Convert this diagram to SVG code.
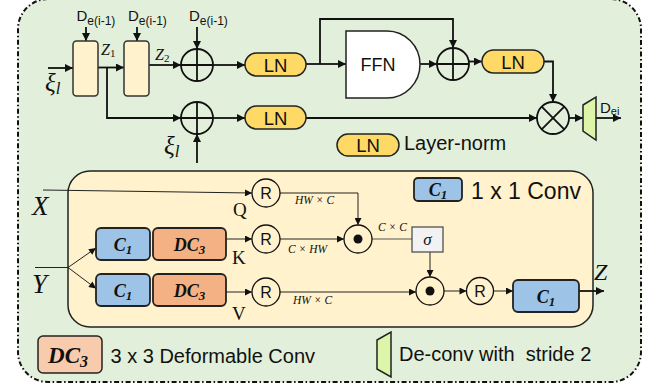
<svg xmlns="http://www.w3.org/2000/svg" width="647" height="389" viewBox="0 0 647 389">
<defs>
<style>
.sans{font-family:"Liberation Sans",Arial,sans-serif;fill:#111}
.mi{font-family:"Liberation Serif","DejaVu Serif",serif;font-style:italic;fill:#111}
.rm{font-family:"Liberation Serif","DejaVu Serif",serif;fill:#111}
.bm{font-family:"Liberation Serif","DejaVu Serif",serif;font-style:italic;font-weight:bold;fill:#111}
.thick{stroke:#111;stroke-width:1.8;fill:none}
.thin{stroke:#222;stroke-width:1;fill:none}
.gray{stroke:#555;stroke-width:1;fill:none}
.circ{stroke:#111;stroke-width:1.8;fill:none}
.circt{stroke:#111;stroke-width:1.3;fill:none}
.ln{fill:#ffd966;stroke:#222;stroke-width:1.5}
.c1{fill:#9dc3e6;stroke:#222;stroke-width:1.8}
.dc{fill:#f4b183;stroke:#222;stroke-width:1.8}
.cream{fill:#fff2cc;stroke:#333;stroke-width:1.5}
.trap{fill:#dcf5a8;stroke:#222;stroke-width:1.5}
</style>
<marker id="ah" viewBox="0 0 10 10" refX="10" refY="5" markerWidth="9" markerHeight="8" markerUnits="userSpaceOnUse" orient="auto"><path d="M0,0 L10,5 L0,10 Z" fill="#111"/></marker>
<marker id="as" viewBox="0 0 10 10" refX="10" refY="5" markerWidth="8" markerHeight="7" markerUnits="userSpaceOnUse" orient="auto"><path d="M0,0 L10,5 L0,10 Z" fill="#111"/></marker>
</defs>

<!-- outer frame -->
<rect x="18" y="-1" width="623" height="383" rx="30" fill="#e2efda" stroke="#111" stroke-width="2" stroke-dasharray="5 2.5 1.5 2.5"/>

<!-- inner attention panel -->
<g id="attention-panel">
<rect x="68" y="171" width="525" height="156" rx="22" fill="#fff2cc" stroke="#222" stroke-width="1.5"/>
</g>

<!-- connectors -->
<g id="connectors">
<line class="thick" x1="48" y1="68" x2="73" y2="68" marker-end="url(#ah)"/>
<line class="thick" x1="86" y1="27" x2="86" y2="41" marker-end="url(#ah)"/>
<line class="thick" x1="98" y1="67.5" x2="124" y2="67.5" marker-end="url(#ah)"/>
<polyline class="thick" points="107,67.5 107,118 181,118" marker-end="url(#ah)"/>
<line class="thick" x1="137" y1="27" x2="137" y2="41" marker-end="url(#ah)"/>
<line class="thick" x1="149" y1="65" x2="181" y2="65" marker-end="url(#ah)"/>
<line class="thick" x1="197" y1="27" x2="197" y2="49" marker-end="url(#ah)"/>
<line class="thick" x1="213" y1="65" x2="245" y2="65" marker-end="url(#ah)"/>
<line class="thick" x1="306" y1="64" x2="320" y2="64"/>
<polyline class="thick" points="320,64 320,19 453,19 453,48" marker-end="url(#ah)"/>
<line class="thick" x1="320" y1="64" x2="346" y2="64" marker-end="url(#ah)"/>
<line class="thick" x1="420" y1="64" x2="437" y2="64" marker-end="url(#ah)"/>
<line class="thick" x1="469" y1="61.5" x2="482" y2="61.5" marker-end="url(#ah)"/>
<polyline class="thick" points="544,61.5 553,61.5 553,102" marker-end="url(#ah)"/>
<line class="thick" x1="213" y1="118" x2="245" y2="118" marker-end="url(#ah)"/>
<line class="thick" x1="306" y1="118" x2="537" y2="118" marker-end="url(#ah)"/>
<line class="thick" x1="197" y1="163" x2="197" y2="134" marker-end="url(#ah)"/>
<line class="thick" x1="569" y1="118" x2="583" y2="118" marker-end="url(#ah)"/>
<line class="thick" x1="596" y1="118" x2="621" y2="118" marker-end="url(#ah)"/>

<line class="thin" x1="43" y1="190" x2="252" y2="193" marker-end="url(#as)"/>
<line class="thin" x1="35" y1="267.5" x2="68" y2="267.5"/>
<line class="thin" x1="68" y1="267.5" x2="96" y2="248" marker-end="url(#as)"/>
<line class="thin" x1="68" y1="267.5" x2="96" y2="288.5" marker-end="url(#as)"/>
<line class="thin" x1="226" y1="239" x2="252" y2="239" marker-end="url(#as)"/>
<line class="thin" x1="226" y1="292" x2="252" y2="292" marker-end="url(#as)"/>
<polyline class="thin" points="280,193 358,193 358,225" marker-end="url(#as)"/>
<line class="thin" x1="280" y1="239" x2="344" y2="239" marker-end="url(#as)"/>
<line class="gray" x1="372" y1="239" x2="412" y2="239"/>
<line class="thin" x1="430" y1="252" x2="430" y2="277" marker-end="url(#as)"/>
<line class="thin" x1="280" y1="292" x2="416" y2="292" marker-end="url(#as)"/>
<line class="thin" x1="444" y1="291" x2="466.5" y2="291" marker-end="url(#as)"/>
<line class="thin" x1="493.5" y1="291" x2="513" y2="291" marker-end="url(#as)"/>
<line class="thick" x1="579" y1="291" x2="604" y2="291" marker-end="url(#ah)"/>
</g>

<!-- top branch nodes -->
<g id="block1"><rect x="73" y="41" width="25" height="55" rx="3.5" class="cream"/></g>
<g id="block2"><rect x="124" y="41" width="25" height="55" rx="3.5" class="cream"/></g>
<g id="label-d1"><text class="sans" x="76.5" y="21" font-size="15">D<tspan font-size="12" dy="4">e(i-1)</tspan></text></g>
<g id="label-d2"><text class="sans" x="128" y="21" font-size="15">D<tspan font-size="12" dy="4">e(i-1)</tspan></text></g>
<g id="label-d3"><text class="sans" x="189" y="21" font-size="15">D<tspan font-size="12" dy="4">e(i-1)</tspan></text></g>
<g id="label-xi1"><text class="mi" x="45" y="91" font-size="25">ξ<tspan font-size="17" dy="3">l</tspan></text></g>
<g id="label-z1"><text class="mi" x="101" y="55" font-size="16">Z<tspan font-size="11" dy="2" font-style="normal">1</tspan></text></g>
<g id="label-z2"><text class="mi" x="155" y="60" font-size="16">Z<tspan font-size="11" dy="2" font-style="normal">2</tspan></text></g>

<g id="add1"><circle cx="197" cy="65" r="16" class="circ"/><path d="M181,65 H213 M197,49 V81" class="thick"/></g>
<g id="add2"><circle cx="197" cy="118" r="16" class="circ"/><path d="M181,118 H213 M197,102 V134" class="thick"/></g>
<g id="label-xi2"><text class="mi" x="164" y="154" font-size="25">ξ<tspan font-size="17" dy="3">l</tspan></text></g>

<g id="ln1"><rect x="245" y="53" width="61" height="23" rx="11.5" class="ln"/><text class="sans" x="275.5" y="71.5" font-size="18.5" text-anchor="middle">LN</text></g>
<g id="ln2"><rect x="245" y="106" width="61" height="23" rx="11.5" class="ln"/><text class="sans" x="275.5" y="124.5" font-size="18.5" text-anchor="middle">LN</text></g>

<g id="ffn"><path d="M346,31 H387 A33,33.5 0 0 1 387,98 H346 Z" fill="#fff" stroke="#222" stroke-width="1.5"/><text class="sans" x="378" y="71" font-size="18" text-anchor="middle">FFN</text></g>
<g id="add3"><circle cx="453" cy="64" r="16" class="circ"/><path d="M437,64 H469 M453,48 V80" class="thick"/></g>
<g id="ln3"><rect x="482" y="50" width="62" height="23" rx="11.5" class="ln"/><text class="sans" x="513" y="68.5" font-size="18.5" text-anchor="middle">LN</text></g>
<g id="mul"><circle cx="553" cy="118" r="16" class="circ"/><path d="M541.7,106.7 L564.3,129.3 M564.3,106.7 L541.7,129.3" class="thick"/></g>
<g id="deconv"><polygon points="583,105 596,97 596,140 583,131" class="trap"/></g>
<g id="label-dei"><text class="sans" x="600" y="113" font-size="15">D<tspan font-size="11" dy="2">ei</tspan></text></g>

<g id="legend-ln"><rect x="337" y="134" width="62" height="22" rx="11" class="ln"/><text class="sans" x="368" y="151.5" font-size="18.5" text-anchor="middle">LN</text><text class="sans" x="404" y="149.5" font-size="20">Layer-norm</text></g>

<!-- attention internals -->
<g id="label-x"><text class="mi" x="32" y="215" font-size="27">X</text></g>
<g id="label-y"><text class="mi" x="32" y="293" font-size="27">Y</text></g>
<g id="conv-k"><rect x="96" y="228" width="54" height="32" rx="5" class="c1"/><text class="bm" x="123" y="251" font-size="18" text-anchor="middle">C<tspan font-size="13" dy="3">1</tspan></text></g>
<g id="dconv-k"><rect x="153" y="228" width="73" height="32" rx="5" class="dc"/><text class="bm" x="189.5" y="251" font-size="18" text-anchor="middle">DC<tspan font-size="13" dy="3">3</tspan></text></g>
<g id="conv-v"><rect x="96" y="274" width="54" height="32" rx="5" class="c1"/><text class="bm" x="123" y="297" font-size="18" text-anchor="middle">C<tspan font-size="13" dy="3">1</tspan></text></g>
<g id="dconv-v"><rect x="153" y="274" width="73" height="32" rx="5" class="dc"/><text class="bm" x="189.5" y="297" font-size="18" text-anchor="middle">DC<tspan font-size="13" dy="3">3</tspan></text></g>
<g id="label-q"><text class="rm" x="233" y="216" font-size="19">Q</text></g>
<g id="label-k"><text class="rm" x="232" y="264" font-size="19">K</text></g>
<g id="label-v"><text class="rm" x="232" y="320" font-size="19">V</text></g>
<g id="reshape-q"><circle cx="266" cy="193" r="14" class="circt"/><text class="sans" x="266" y="199" font-size="16" text-anchor="middle">R</text></g>
<g id="reshape-k"><circle cx="266" cy="239" r="14" class="circt"/><text class="sans" x="266" y="245" font-size="16" text-anchor="middle">R</text></g>
<g id="reshape-v"><circle cx="266" cy="292" r="14" class="circt"/><text class="sans" x="266" y="298" font-size="16" text-anchor="middle">R</text></g>
<g id="label-hwc1"><text class="mi" x="295" y="204" font-size="11.5">HW × C</text></g>
<g id="label-chw"><text class="mi" x="288" y="253" font-size="11.5">C × HW</text></g>
<g id="label-hwc2"><text class="mi" x="293" y="304" font-size="11.5">HW × C</text></g>
<g id="label-cc"><text class="mi" x="378" y="231" font-size="11.5">C × C</text></g>
<g id="matmul1"><circle cx="358" cy="239" r="14" class="circt"/><circle cx="358" cy="239" r="4.5" fill="#111"/></g>
<g id="sigma"><rect x="412" y="227" width="31" height="25" fill="#f2f2f2" stroke="#444" stroke-width="1.2"/><text class="mi" x="427.5" y="244.5" font-size="17" text-anchor="middle">σ</text></g>
<g id="matmul2"><circle cx="430" cy="291" r="14" class="circt"/><circle cx="430" cy="291" r="4.5" fill="#111"/></g>
<g id="reshape-out"><circle cx="480" cy="291" r="13.5" class="circt"/><text class="sans" x="480" y="297" font-size="16" text-anchor="middle">R</text></g>
<g id="conv-out"><rect x="513" y="280" width="66" height="32" rx="5" class="c1"/><text class="bm" x="546" y="303" font-size="18" text-anchor="middle">C<tspan font-size="13" dy="3">1</tspan></text></g>
<g id="label-z"><text class="mi" x="594" y="280" font-size="24">Z</text></g>
<g id="legend-c1"><rect x="414" y="178" width="48" height="23" rx="4" class="c1"/><text class="bm" x="438" y="196" font-size="18" text-anchor="middle">C<tspan font-size="13" dy="3">1</tspan></text><text class="sans" x="471" y="198.5" font-size="23">1 x 1 Conv</text></g>

<!-- bottom legend -->
<g id="legend-dc3"><rect x="38" y="336" width="64" height="37" rx="5" fill="#f8cbad" stroke="#222" stroke-width="1.5"/><text class="bm" x="68" y="362.5" font-size="23" text-anchor="middle">DC<tspan font-size="16" dy="4">3</tspan></text><text class="sans" x="110.5" y="362.5" font-size="20">3 x 3 Deformable Conv</text></g>
<g id="legend-deconv"><polygon points="377,340 391,332 391,377 377,369" class="trap"/><text class="sans" x="399" y="361" font-size="20" style="white-space:pre">De-conv with  stride 2</text></g>
</svg>
